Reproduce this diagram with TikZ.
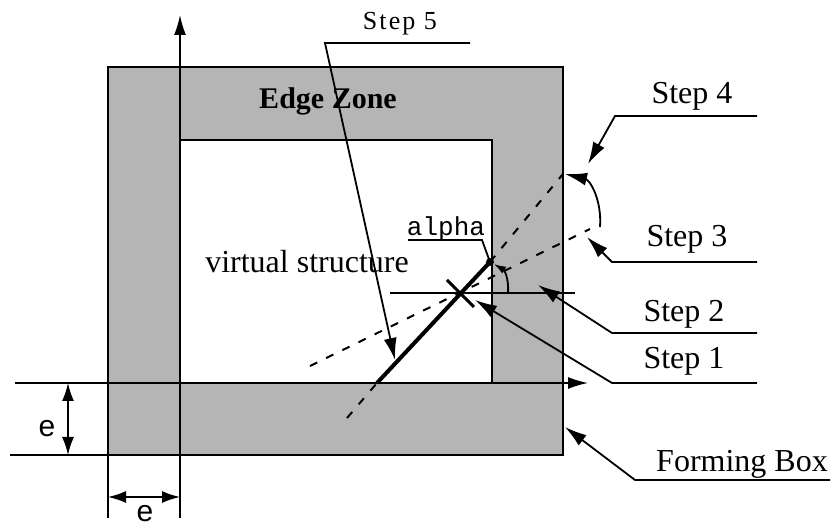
\documentclass[tikz,border=0pt]{standalone}
\usepackage{fontspec}
\setmainfont{Liberation Serif}
\setsansfont{Liberation Sans}
\setmonofont{Liberation Mono}
\newfontfamily\spacedfont[LetterSpace=8]{Liberation Serif}
\usetikzlibrary{arrows.meta}
\definecolor{zonegray}{gray}{0.71}

\tikzset{
  leader/.style={line width=0.9pt},
  pointer/.style={leader,-{Latex[length=11pt,width=6.5pt]}},
  smallpointer/.style={leader,-{Latex[length=6pt,width=4pt]}},
  dimarrow/.style={line width=0.8pt,{Latex[length=9pt,width=6pt]}-{Latex[length=9pt,width=6pt]}},
  axis/.style={line width=0.8pt,-{Latex[length=10pt,width=6pt]}},
  boxline/.style={line width=1.2pt},
  guideline/.style={line width=1pt,dash pattern=on 4pt off 5pt},
  steplabel/.style={font=\fontsize{16}{18}\selectfont,inner sep=0pt,anchor=base},
  dimlabel/.style={font=\sffamily\fontsize{15}{17}\selectfont,inner sep=0pt}
}

\begin{document}
\begin{tikzpicture}[x=0.5pt,y=-0.5pt]
\useasboundingbox (0,0) rectangle (832,529);

% forming box with its edge zone
\fill[zonegray] (108,67) rectangle (563,455);
\fill[white] (180,140) rectangle (492,383);
\draw[boxline] (108,67) rectangle (563,455);
\draw[boxline] (180,140) -- (492,140) -- (492,383);

% axes and dimension lines
\coordinate (ybot) at (180,518); \coordinate (ytop) at (180,15);
\coordinate (xleft) at (15,383); \coordinate (xright) at (588,383);
\coordinate (bleft) at (10,455); \coordinate (bright) at (563,455);
\coordinate (eleft) at (108,455); \coordinate (eext) at (108,518);
\draw[axis] (ybot) -- (ytop);
\draw[axis] (xleft) -- (xright);
\draw[line width=0.8pt] (bleft) -- (bright);
\draw[line width=0.8pt] (eleft) -- (eext);
\coordinate (dv1) at (68,383); \coordinate (dv2) at (68,455);
\coordinate (dh1) at (108,497); \coordinate (dh2) at (180,497);
\draw[dimarrow] (dv1) -- (dv2); \node[dimlabel] (ev) at (47,429) {e};
\draw[dimarrow] (dh1) -- (dh2); \node[dimlabel] (eh) at (145,514) {e};

% structure and its rotation
\coordinate (X) at (460,293);
\coordinate (sbot) at (377,383); \coordinate (stop) at (490,262);
\coordinate (g3a) at (310,366); \coordinate (g3b) at (590,229);
\coordinate (g4a) at (347,418); \coordinate (g4b) at (563,174);
\draw[guideline] (g3a) -- (g3b);
\draw[guideline] (g4a) -- (sbot); \draw[guideline] (stop) -- (g4b);
\draw[line width=2pt] (sbot) -- (stop);
\fill (stop) circle[radius=4];
\coordinate (c1) at (447,280); \coordinate (c2) at (474,307);
\draw[line width=1.5pt] (c1) -- (c2);
\coordinate (h1) at (390,293); \coordinate (h2) at (575,293);
\draw[leader] (h1) -- (h2);
\coordinate (arcstart) at (508,293); \coordinate (arcend) at (494,264);
\draw[smallpointer] (arcstart) .. controls (509,277) and (504,270) .. (arcend);
\coordinate (turnstart) at (600,227); \coordinate (turnend) at (565,174);
\draw[pointer] (turnstart) .. controls (602,200) and (590,180) .. (turnend);

% labels
\node[font=\bfseries\fontsize{15}{17}\selectfont,inner sep=0pt,anchor=base] (edge) at (328,109) {Edge Zone};
\node[steplabel] (virt) at (307,273) {virtual structure};
\node[font=\ttfamily\fontsize{13}{15}\selectfont,inner sep=0pt,anchor=base] (alpha) at (446,236) {alpha};
\draw[leader] (408,240) -- (482,240) -- (stop);

\node[font=\spacedfont\fontsize{13}{15}\selectfont,inner sep=0pt,anchor=base] (step5) at (400,30) {Step 5};
\coordinate (tip5) at (395,360);
\draw[pointer] (470,43) -- (325,43) -- (tip5);

\node[steplabel] (step4) at (692,104) {Step 4};
\coordinate (tip4) at (588,164);
\draw[pointer] (757,116) -- (615,116) -- (tip4);

\node[steplabel] (step3) at (687,247) {Step 3};
\coordinate (tip3) at (587,237);
\draw[pointer] (757,262) -- (612,262) -- (tip3);

\node[steplabel] (step2) at (684,322) {Step 2};
\coordinate (tip2) at (538,285);
\draw[pointer] (757,333) -- (612,333) -- (tip2);

\node[steplabel] (step1) at (684,369) {Step 1};
\coordinate (tip1) at (475,300);
\draw[pointer] (757,383) -- (612,383) -- (tip1);

\node[steplabel] (forming) at (742,472) {Forming Box};
\coordinate (tipf) at (565,427);
\draw[pointer] (830,480) -- (635,480) -- (tipf);

\end{tikzpicture}
\end{document}
